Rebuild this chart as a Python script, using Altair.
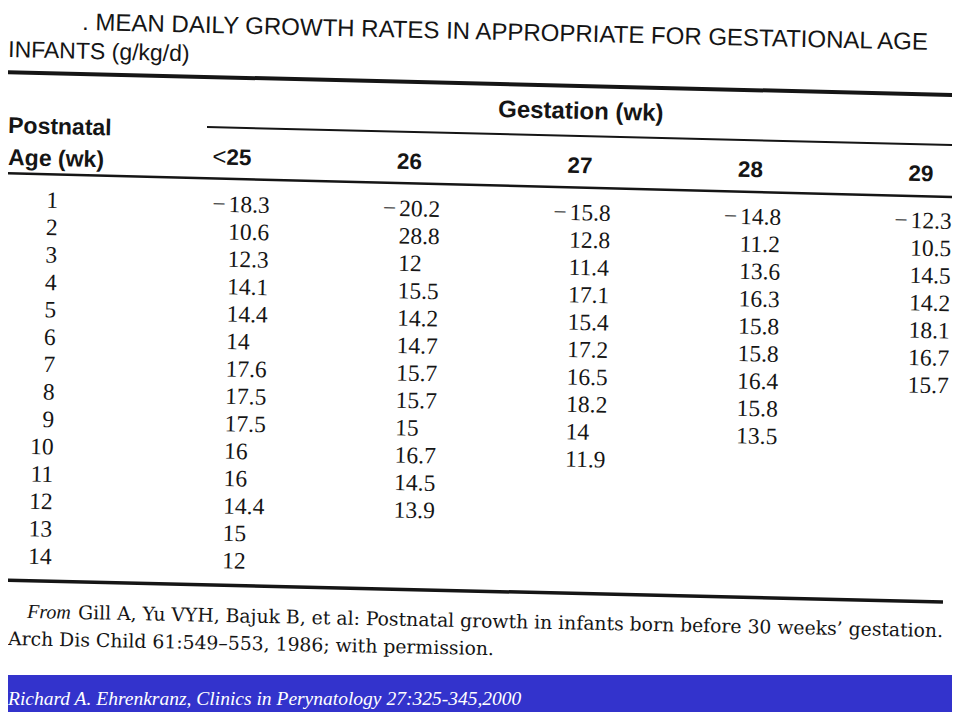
import altair as alt
import pandas as pd

postnatal_weeks = list(range(1, 15))
gestation_cols = ["<25", "26", "27", "28", "29"]
lt25 = [-18.3, 10.6, 12.3, 14.1, 14.4, 14, 17.6, 17.5, 17.5, 16, 16, 14.4, 15, 12]
g26 = [-20.2, 28.8, 12, 15.5, 14.2, 14.7, 15.7, 15.7, 15, 16.7, 14.5, 13.9]
g27 = [-15.8, 12.8, 11.4, 17.1, 15.4, 17.2, 16.5, 18.2, 14, 11.9]
g28 = [-14.8, 11.2, 13.6, 16.3, 15.8, 15.8, 16.4, 15.8, 13.5]
g29 = [-12.3, 10.5, 14.5, 14.2, 18.1, 16.7, 15.7]
series = [lt25, g26, g27, g28, g29]

title_line1 = ". MEAN DAILY GROWTH RATES IN APPROPRIATE FOR GESTATIONAL AGE"
title_line2 = "INFANTS (g/kg/d)"
stub_head = ["Postnatal", "Age (wk)"]
spanner = "Gestation (wk)"
source_from = "From"
source_line1 = "Gill A, Yu VYH, Bajuk B, et al: Postnatal growth in infants born before 30 weeks\u2019 gestation."
source_line2 = "Arch Dis Child 61:549\u2013553, 1986; with permission."
credit = "Richard A. Ehrenkranz, Clinics in Perynatology 27:325-345,2000"

# ---------------- tables built from the arrays ----------------
cells = []
for c, vals in enumerate(series):
    for r, v in zip(postnatal_weeks, vals):
        cells.append({"row": r, "col": c, "label": f"{abs(v):g}", "neg": bool(v < 0)})
for r in postnatal_weeks:
    cells.append({"row": r, "col": -1, "label": str(r), "neg": False})
cells_df = pd.DataFrame(cells)

head_df = pd.DataFrame({
    "col": list(range(len(gestation_cols))),
    "label": [g.lstrip("<") for g in gestation_cols],
    "prefix": ["<" if g.startswith("<") else "" for g in gestation_cols],
})

# ---------------- styling ----------------
W, H = 944, 704
INK = "#151515"
ANG = 1.35
SKEW_Y = 4 / 27.4      # scan tilt: rows drop per column
SKEW_X = 0.5 / 171     # scan tilt: columns drift per row
HEADER_ROW = -0.72
SERIF = "Liberation Serif"
SANS = "Liberation Sans"

xs = alt.Scale(domain=[0, 4], range=[220, 902], nice=False, zero=False)
ys = alt.Scale(domain=[1, 14], range=[204, 560.2], nice=False, zero=False)
X = alt.X("xpos:Q", scale=xs, axis=None)
Y = alt.Y("ypos:Q", scale=ys, axis=None)

skew = dict(
    ypos=f"datum.row + datum.col * {SKEW_Y}",
    xpos=f"datum.col - (datum.row - 2) * {SKEW_X}",
)

cell_base = alt.Chart(cells_df).transform_calculate(**skew)
cell_text = dict(baseline="alphabetic", font=SERIF, fontSize=23.5, angle=ANG, color=INK)

values = cell_base.transform_filter("datum.col >= 0").mark_text(align="left", **cell_text).encode(
    x=X, y=Y, text="label:N")
minus = cell_base.transform_filter("datum.neg").mark_text(align="right", dx=-3, **cell_text).encode(
    x=X, y=Y, text=alt.value("\u2212"))
row_labels = cell_base.transform_filter("datum.col < 0").mark_text(align="right", **cell_text).encode(
    x=X, y=Y, text="label:N")

head_base = alt.Chart(head_df).transform_calculate(
    ypos=f"{HEADER_ROW} + datum.col * {SKEW_Y}",
    xpos=f"datum.col - ({HEADER_ROW} - 2) * {SKEW_X}",
)
heads = head_base.mark_text(align="left", baseline="alphabetic", font=SANS, fontWeight="bold",
                            fontSize=22.5, angle=ANG, color=INK, dx=-3).encode(x=X, y=Y, text="label:N")
head_prefix = head_base.transform_filter("datum.prefix != ''").mark_text(
    align="right", baseline="alphabetic", font=SANS, fontSize=24, angle=ANG, color=INK, dx=-3
).encode(x=X, y=Y, text="prefix:N")

one = pd.DataFrame({"k": [0]})


def label(text, x, y, angle=ANG, **kw):
    return alt.Chart(one).mark_text(text=text, align="left", baseline="alphabetic", angle=angle,
                                    color=kw.pop("color", INK), **kw).encode(
        x=alt.value(x), y=alt.value(y))


def rule(x1, y1, x2, y2, w):
    return alt.Chart(one).mark_rule(color=INK, strokeWidth=w).encode(
        x=alt.value(x1), x2=alt.value(x2), y=alt.value(y1), y2=alt.value(y2))


band = alt.Chart(one).mark_rect(color="#3333CC").encode(
    x=alt.value(-8), x2=alt.value(947), y=alt.value(667), y2=alt.value(712))

layers = [
    band,
    label(title_line1, 74, 22, font=SANS, fontSize=24),
    label(title_line2, 0, 49, font=SANS, fontSize=23),
    rule(-8, 64, 947, 87, 4),
    label(stub_head[0], 0, 125, font=SANS, fontWeight="bold", fontSize=23),
    label(stub_head[1], 0, 157, font=SANS, fontWeight="bold", fontSize=23),
    label(spanner, 490, 109, font=SANS, fontWeight="bold", fontSize=24),
    rule(199, 119, 945, 137, 2),
    rule(-8, 165, 945, 189, 2.5),
    heads, head_prefix, values, minus, row_labels,
    rule(-8, 572, 935, 594, 3.5),
    label(source_from, 19, 610, angle=1.2, font=SERIF, fontStyle="italic", fontSize=20),
    label(source_line1, 70, 611, angle=1.2, font="DejaVu Serif", fontSize=18.8),
    label(source_line2, 0, 637, angle=1.2, font="DejaVu Serif", fontSize=18.8),
    label(credit, 0, 697, angle=0, font=SERIF, fontStyle="italic", fontSize=19.5, color="white"),
]

chart = alt.layer(*layers).properties(
    width=W, height=H, autosize=alt.AutoSizeParams(type="none"), padding=0, background="white"
).configure_view(stroke=None)

chart.save("out.html", embed_options={"renderer": "svg", "actions": False})
